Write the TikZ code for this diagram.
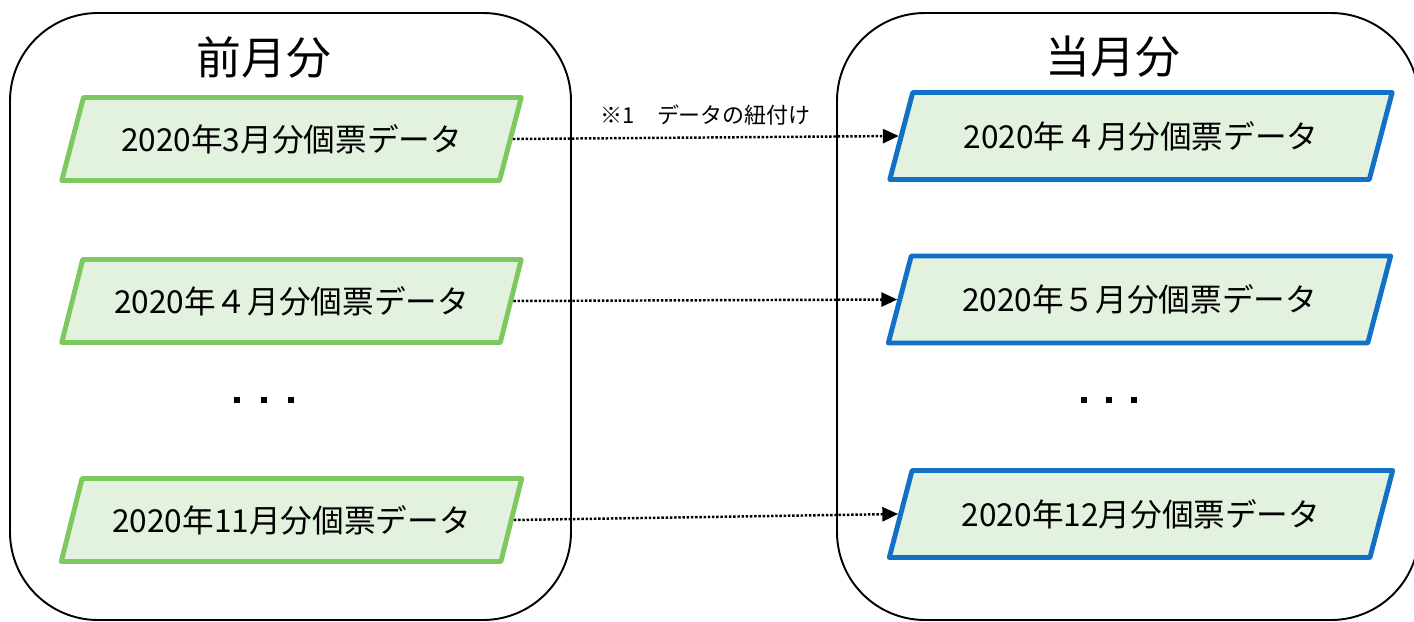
\documentclass[tikz,border=0pt]{standalone}
\usepackage{fontspec}
\setmainfont{Noto Sans CJK JP}
\usetikzlibrary{shapes.geometric,arrows.meta}

\definecolor{prevgreen}{RGB}{126,200,96}
\definecolor{currblue}{RGB}{18,112,198}
\definecolor{datafill}{RGB}{227,241,223}

\tikzset{
  monthbox/.style={trapezium, trapezium left angle=59, trapezium right angle=121,
    trapezium stretches=true, fill=datafill, line width=2.8pt, line join=round,
    inner sep=0pt, font=\fontsize{18}{21}\selectfont},
  prevbox/.style={monthbox, draw=prevgreen, minimum width=9.22cm, minimum height=1.66cm},
  currbox/.style={monthbox, draw=currblue, minimum width=10.08cm, minimum height=1.74cm},
  groupbox/.style={line width=1.1pt, rounded corners=1.76cm},
  grouptitle/.style={font=\fontsize{25.5}{30}\selectfont},
  linkarrow/.style={line width=1.4pt, densely dotted, -{Triangle[length=9pt,width=8pt]}},
}

\begin{document}
\begin{tikzpicture}[x=0.02cm, y=-0.02cm]
        \useasboundingbox (0,0) rectangle (1414,622);
        %previous month
        \draw[groupbox] (10,13) rectangle (571,620);
        \node[grouptitle] (prevtitle) at (264,57) {前月分};
        \node[prevbox] (prev3) at (291.5,139) {2020年3月分個票データ};
        \node[prevbox] (prev4) at (291.5,301) {2020年４月分個票データ};
        \node[prevbox] (prev11) at (291.5,520) {2020年11月分個票データ};
        \foreach \x in {237,264,291}
            \fill (\x-3,397) rectangle ++(6,6);
        %current month
        \draw[groupbox] (837,13) rectangle (1419,620);
        \node[grouptitle] (currtitle) at (1113,57) {当月分};
        \node[currbox] (curr4) at (1141,136) {2020年４月分個票データ};
        \node[currbox] (curr5) at (1139.5,299.5) {2020年５月分個票データ};
        \node[currbox] (curr12) at (1141,514) {2020年12月分個票データ};
        \foreach \x in {1084,1109,1134}
            \fill (\x-3,397) rectangle ++(6,6);
        %links
        \draw[linkarrow] (prev3.right side) -- (curr4.left side)
            node[midway, above=3pt, font=\fontsize{12.5}{15}\selectfont] (linklabel) {※1　データの紐付け};
        \draw[linkarrow] (prev4.right side) -- (curr5.left side);
        \draw[linkarrow] (prev11.right side) -- (curr12.left side);
    \end{tikzpicture}
\end{document}
